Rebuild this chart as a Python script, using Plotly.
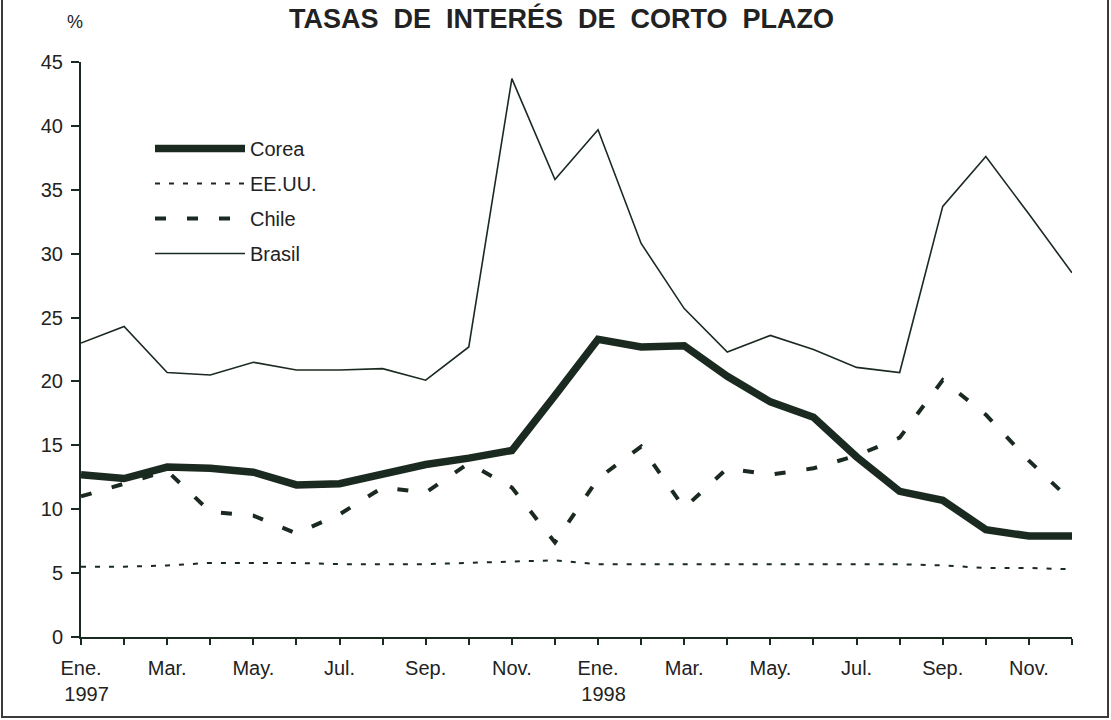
import plotly.graph_objects as go

months = ["Ene. 1997", "Feb. 1997", "Mar. 1997", "Abr. 1997", "May. 1997", "Jun. 1997",
          "Jul. 1997", "Ago. 1997", "Sep. 1997", "Oct. 1997", "Nov. 1997", "Dic. 1997",
          "Ene. 1998", "Feb. 1998", "Mar. 1998", "Abr. 1998", "May. 1998", "Jun. 1998",
          "Jul. 1998", "Ago. 1998", "Sep. 1998", "Oct. 1998", "Nov. 1998", "Dic. 1998"]
tick_text = ["Ene.<br>&nbsp;&nbsp;1997", "", "Mar.", "", "May.", "", "Jul.", "", "Sep.", "", "Nov.", "",
             "Ene.<br>&nbsp;&nbsp;1998", "", "Mar.", "", "May.", "", "Jul.", "", "Sep.", "", "Nov.", ""]

corea = [12.7, 12.4, 13.3, 13.2, 12.9, 11.9, 12.0, 12.8, 13.5, 14.0, 14.6, 18.9,
         23.3, 22.7, 22.8, 20.4, 18.4, 17.2, 14.1, 11.4, 10.7, 8.4, 7.9, 7.9]
eeuu = [5.5, 5.5, 5.6, 5.8, 5.8, 5.8, 5.7, 5.7, 5.7, 5.8, 5.9, 6.0,
        5.7, 5.7, 5.7, 5.7, 5.7, 5.7, 5.7, 5.7, 5.6, 5.4, 5.4, 5.3]
chile = [11.0, 12.0, 13.0, 9.8, 9.5, 8.1, 9.6, 11.7, 11.3, 13.6, 11.7, 7.4,
         12.4, 14.9, 10.1, 13.2, 12.7, 13.2, 14.2, 15.6, 20.1, 17.4, 13.8, 10.6]
brasil = [23.0, 24.3, 20.7, 20.5, 21.5, 20.9, 20.9, 21.0, 20.1, 22.7, 43.7, 35.8,
          39.7, 30.8, 25.7, 22.3, 23.6, 22.5, 21.1, 20.7, 33.7, 37.6, 33.1, 28.5]

ink = "#1b2a20"
txt = "#222222"
font = "Liberation Sans, Arial, sans-serif"

fig = go.Figure()
fig.add_trace(go.Scatter(x=months, y=corea, name="Corea", mode="lines", legendgroup="a",
                         line=dict(color=ink, width=7.5)))
fig.add_trace(go.Scatter(x=months, y=eeuu, name="EE.UU.", mode="lines", legendgroup="b",
                         line=dict(color=ink, width=2, dash="5px,9px")))
fig.add_trace(go.Scatter(x=months, y=chile, name="Chile", mode="lines", legendgroup="c",
                         line=dict(color=ink, width=4, dash="11px,21px")))
fig.add_trace(go.Scatter(x=months, y=brasil, name="Brasil", mode="lines", legendgroup="d",
                         line=dict(color=ink, width=1.6)))

W, H = 1111, 720
L, R, T, B = 81, 39, 62, 83
pw, ph = W - L - R, H - T - B

title_txt = "<b>TASAS&nbsp; DE&nbsp; INTERÉS&nbsp; DE&nbsp; CORTO&nbsp; PLAZO</b>"

fig.update_layout(
    width=W, height=H,
    margin=dict(l=L, r=R, t=T, b=B),
    paper_bgcolor="white", plot_bgcolor="white",
    font=dict(family=font, size=20, color=txt),
    showlegend=True,
    legend=dict(x=(150 - L) / pw, y=1 - (129 - T) / ph, xanchor="left", yanchor="top",
                bgcolor="rgba(0,0,0,0)", itemwidth=90, tracegroupgap=6,
                font=dict(size=20, family=font, color=txt)),
    xaxis=dict(type="category", categoryorder="array", categoryarray=months,
               range=[0, 23], tickmode="array", tickvals=months, ticktext=tick_text,
               ticks="outside", ticklen=6, tickwidth=2, tickcolor=ink,
               ticklabelstandoff=6,
               showline=True, linecolor=ink, linewidth=2, showgrid=False, zeroline=False,
               tickfont=dict(size=20, family=font, color=txt)),
    yaxis=dict(range=[0, 45], tickmode="array", tickvals=list(range(0, 50, 5)),
               ticks="outside", ticklen=8, tickwidth=2, tickcolor=ink,
               ticklabelstandoff=4,
               showline=True, linecolor=ink, linewidth=2, showgrid=False, zeroline=False,
               tickfont=dict(size=20, family=font, color=txt)),
    annotations=[
        dict(text=title_txt, xref="paper", yref="paper",
             x=(561 - L) / pw, y=1 + (T - 18) / ph, xanchor="center", yanchor="middle",
             showarrow=False, font=dict(size=27, family=font, color=txt)),
        dict(text="%", xref="paper", yref="paper",
             x=(75 - L) / pw, y=1 + (T - 22) / ph, xanchor="center", yanchor="middle",
             showarrow=False, font=dict(size=18, family=font, color=txt)),
    ],
    shapes=[
        dict(type="rect", xref="paper", yref="paper",
             x0=(2 - L) / pw, x1=(1108 - L) / pw, y0=-(717 - T - ph) / ph, y1=1 + (T + 5) / ph,
             line=dict(color="#3a3a3a", width=2), fillcolor="rgba(0,0,0,0)", layer="below"),
    ],
)

fig.write_html("out.html", config={"displayModeBar": False},
               post_script="document.body.style.margin='0';")
